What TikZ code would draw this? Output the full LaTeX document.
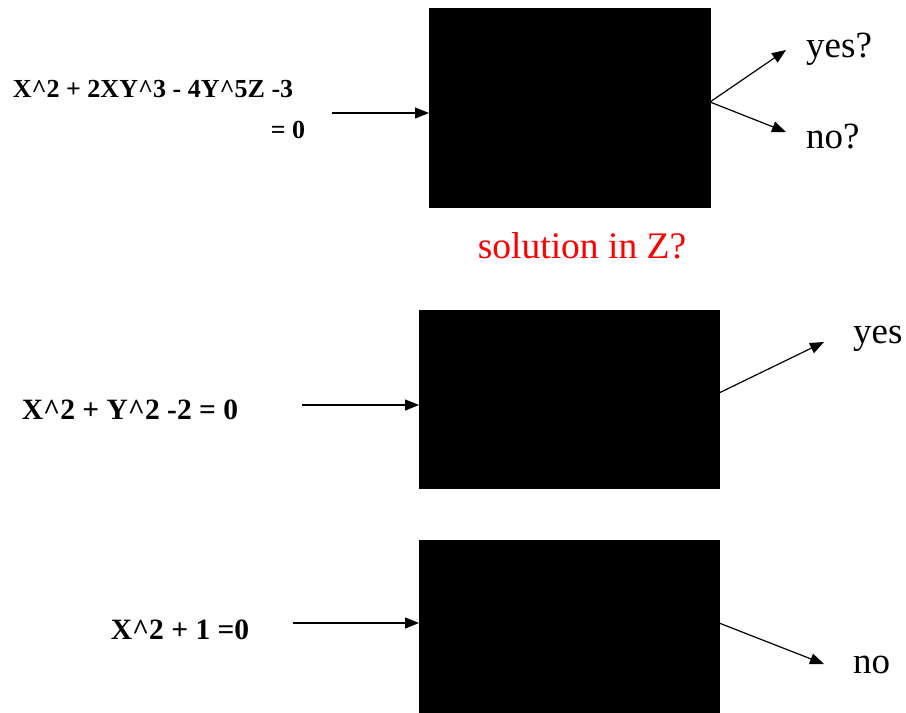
\documentclass[tikz,border=0pt]{standalone}
\usepackage{fontspec}
\setmainfont{Liberation Serif}
\usetikzlibrary{arrows.meta}
\begin{document}
\begin{tikzpicture}[x=1pt,y=-1pt,
  blk/.style={fill=black,draw=black,inner sep=0pt,anchor=north west},
  eqn/.style={font=\fontsize{29.5}{32}\selectfont\bfseries,inner sep=0pt,anchor=base},
  ans/.style={font=\fontsize{37}{40}\selectfont,inner sep=0pt,anchor=base west},
  arr/.style={line width=1.2pt,-{Triangle[length=14pt,width=11pt]}}]
\useasboundingbox (0,0) rectangle (906,713);
% boxes
\node[blk,minimum width=281pt,minimum height=199pt] (b1) at (429,8) {};
\node[blk,minimum width=300pt,minimum height=178pt] (b2) at (419,310) {};
\node[blk,minimum width=300pt,minimum height=172pt] (b3) at (419,540) {};
% labels
\node[eqn,font=\fontsize{26}{30}\selectfont\bfseries] (e1a) at (153,97) {X\textasciicircum2 + 2XY\textasciicircum3 - 4Y\textasciicircum5Z -3};
\node[eqn,font=\fontsize{26}{30}\selectfont\bfseries] (e1b) at (288,138) {= 0};
\node[eqn] (e2) at (130,419) {X\textasciicircum2 + Y\textasciicircum2 -2 = 0};
\node[eqn] (e3) at (180,639) {X\textasciicircum2 + 1 =0};
\node[font=\fontsize{37.5}{40}\selectfont,text=red,inner sep=0pt,anchor=base] (sol) at (582,258) {solution in Z?};
\node[ans] (y1) at (806,57) {yes?};
\node[ans] (n1) at (806,148) {no?};
\node[ans] (y2) at (853,343) {yes};
\node[ans] (n3) at (853,673) {no};
% connector endpoints
\coordinate (i1) at (332,113);
\coordinate (i2) at (302,405);
\coordinate (i3) at (293,623);
\coordinate (o1) at (710,102);
\coordinate (t1a) at (786,50);
\coordinate (t1b) at (786,132);
\coordinate (o2) at (719,393);
\coordinate (t2) at (824,342);
\coordinate (o3) at (719,623);
\coordinate (t3) at (824,664);
% arrows
\draw[arr] (i1) -- (b1.west |- i1);
\draw[arr] (i2) -- (b2.west |- i2);
\draw[arr] (i3) -- (b3.west |- i3);
\draw[arr] (o1) -- (t1a);
\draw[arr] (o1) -- (t1b);
\draw[arr] (o2) -- (t2);
\draw[arr] (o3) -- (t3);
\end{tikzpicture}
\end{document}
